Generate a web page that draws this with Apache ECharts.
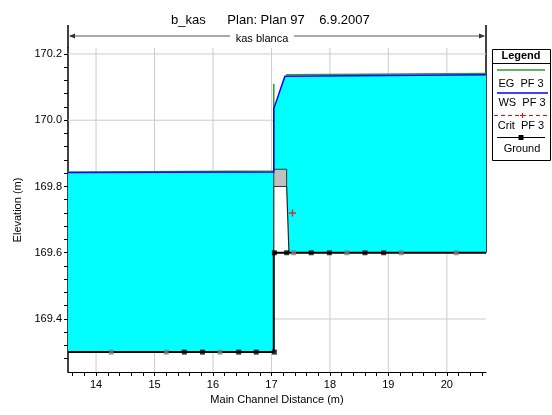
<!DOCTYPE html>
<html>
<head>
<meta charset="utf-8">
<script src="https://cdn.jsdelivr.net/npm/echarts@6/dist/echarts.min.js"></script>
<style>
  html, body { margin: 0; padding: 0; background: #fff; }
  #chart { width: 552px; height: 415px; }
</style>
</head>
<body>
<div id="chart"></div>
<script>
// Axis extents (m)
const X_MIN = 13.52, X_MAX = 20.67;
const Y_MIN = 169.24, Y_MAX = 170.218;

// Labelled ticks
const xTicks = [14, 15, 16, 17, 18, 19, 20];
const yTicks = [169.4, 169.6, 169.8, 170.0, 170.2];

// Water surface, PF 3 (distance, elevation)
const wsDist = [13.52, 17.04, 17.04, 17.23, 20.67];
const wsElev = [169.842, 169.844, 170.035, 170.133, 170.137];

// Energy grade line, PF 3 (null = no line through the bridge)
const egDist = [13.52, 17.04, 17.04, null, 17.25, 20.67];
const egElev = [169.843, 169.847, 170.11, null, 170.137, 170.141];

// Ground profile
const groundDist = [13.52, 17.04, 17.04, 20.67];
const groundElev = [169.30, 169.30, 169.60, 169.60];

// Ground points (black) and interpolated sections (grey)
const groundPtDist = [15.51, 15.82, 16.44, 16.74, 17.05, 17.05, 17.26, 17.68, 17.99, 18.60, 18.92];
const groundPtElev = [169.30, 169.30, 169.30, 169.30, 169.30, 169.60, 169.60, 169.60, 169.60, 169.60, 169.60];
const interpPtDist = [14.26, 15.20, 16.12, 17.38, 18.29, 19.22, 20.16];
const interpPtElev = [169.30, 169.30, 169.30, 169.60, 169.60, 169.60, 169.60];

// Bridge deck and abutment
const deckDist = [17.04, 17.26];
const deckElev = [169.80, 169.852];   // low chord, high chord
const abutmentFootDist = 17.30;

// Critical depth, PF 3
const critDist = [17.36];
const critElev = [169.72];

const FONT = 'Liberation Sans, Arial, sans-serif';

// Minor tick positions
const xMinor = [];
for (let v = 13.6; v < X_MAX; v += 0.2) xMinor.push(+v.toFixed(2));
const yMinor = [];
for (let v = 169.28; v <= Y_MAX + 1e-9; v += 0.04) yMinor.push(+v.toFixed(2));

// Filled water polygons built from the profile arrays
const waterLeft = [
  [wsDist[0], groundElev[0]],
  [wsDist[0], wsElev[0]],
  [wsDist[1], wsElev[1]],
  [groundDist[1], groundElev[1]]
];
const waterRight = [
  [wsDist[2], wsElev[2]],
  [wsDist[3], wsElev[3]],
  [wsDist[4], wsElev[4]],
  [groundDist[3], groundElev[3]],
  [abutmentFootDist, groundElev[3]],
  [deckDist[1], deckElev[0]],
  [deckDist[1], deckElev[1]],
  [deckDist[0], deckElev[1]]
];
const deckPoly = [
  [deckDist[0], deckElev[0]], [deckDist[1], deckElev[0]],
  [deckDist[1], deckElev[1]], [deckDist[0], deckElev[1]]
];

function polySeries(polys, style, z) {
  return {
    type: 'custom', z: z, silent: true, clip: true,
    data: polys.map((p, i) => [i]),
    renderItem: function (params, api) {
      const pts = polys[params.dataIndex].map(p => api.coord(p));
      return { type: 'polygon', shape: { points: pts }, style: style };
    }
  };
}

const gridLineSeries = {
  type: 'custom', z: 1, silent: true, clip: false,
  data: xTicks.map(v => ['x', v]).concat(yTicks.map(v => ['y', v])),
  renderItem: function (params, api) {
    const kind = xTicks.length > params.dataIndex ? 'x' : 'y';
    const v = kind === 'x' ? xTicks[params.dataIndex] : yTicks[params.dataIndex - xTicks.length];
    const a = kind === 'x' ? api.coord([v, Y_MIN]) : api.coord([X_MIN, v]);
    const b = kind === 'x' ? api.coord([v, Y_MAX]) : api.coord([X_MAX, v]);
    return { type: 'line', shape: { x1: a[0], y1: a[1], x2: b[0], y2: b[1] },
             style: { stroke: '#cccccc', lineWidth: 1 } };
  }
};

const zip = (xs, ys) => xs.map((x, i) => (x === null ? null : [x, ys[i]]));

const chart = echarts.init(document.getElementById('chart'), null, { renderer: 'canvas' });

chart.setOption({
  animation: false,
  backgroundColor: '#ffffff',
  title: {
    text: 'b_kas      Plan: Plan 97    6.9.2007',
    left: 166, top: 9,
    textStyle: { fontFamily: FONT, fontSize: 13, fontWeight: 'normal', color: '#000' }
  },
  grid: { left: 68, right: 66, top: 48, bottom: 43, containLabel: false },
  xAxis: {
    type: 'value', min: X_MIN, max: X_MAX,
    name: 'Main Channel Distance (m)', nameLocation: 'middle', nameGap: 19,
    nameTextStyle: { fontFamily: FONT, fontSize: 11, color: '#000' },
    axisLine: { show: true, lineStyle: { color: '#000', width: 1 } },
    axisTick: { show: true, customValues: xMinor, length: 4, lineStyle: { color: '#000' } },
    axisLabel: { customValues: xTicks, margin: 7, fontFamily: FONT, fontSize: 11, color: '#000' },
    splitLine: { show: false }
  },
  yAxis: {
    type: 'value', min: Y_MIN, max: Y_MAX,
    name: 'Elevation (m)', nameLocation: 'middle', nameGap: 44,
    nameTextStyle: { fontFamily: FONT, fontSize: 11, color: '#000' },
    axisLine: { show: true, lineStyle: { color: '#000', width: 1.5 } },
    axisTick: { show: true, customValues: yMinor, length: 4, lineStyle: { color: '#000' } },
    axisLabel: { customValues: yTicks, margin: 6, fontFamily: FONT, fontSize: 11, color: '#000',
                 formatter: v => v.toFixed(1) },
    splitLine: { show: false }
  },
  series: [
    gridLineSeries,
    polySeries([waterLeft, waterRight], { fill: '#00ffff', stroke: null }, 2),
    polySeries([deckPoly], { fill: '#c0c0c0', stroke: '#333333', lineWidth: 1 }, 4),
    {
      // bridge upstream face and sloping abutment
      type: 'line', z: 4, silent: true, symbol: 'none',
      data: [[deckDist[0], groundElev[3]], [deckDist[0], deckElev[0]], null,
             [deckDist[1], deckElev[0]], [abutmentFootDist, groundElev[3]]],
      connectNulls: false,
      lineStyle: { color: '#222', width: 1.2 }
    },
    {
      name: 'Ground', type: 'line', z: 5, silent: true, symbol: 'none',
      data: zip(groundDist, groundElev),
      lineStyle: { color: '#000', width: 2 }
    },
    {
      name: 'EG PF 3', type: 'line', z: 5, silent: true, symbol: 'none',
      data: zip(egDist, egElev), connectNulls: false,
      lineStyle: { color: '#2a9d2a', width: 1.5 }
    },
    {
      name: 'WS PF 3', type: 'line', z: 6, silent: true, symbol: 'none',
      data: zip(wsDist, wsElev),
      lineStyle: { color: '#0000ff', width: 1.5 }
    },
    {
      type: 'scatter', z: 7, silent: true, symbol: 'rect', symbolSize: 5,
      data: zip(interpPtDist, interpPtElev),
      itemStyle: { color: '#808080' }
    },
    {
      type: 'scatter', z: 7, silent: true, symbol: 'rect', symbolSize: 5,
      data: zip(groundPtDist, groundPtElev),
      itemStyle: { color: '#000000' }
    },
    {
      name: 'Crit PF 3', type: 'scatter', z: 7, silent: true,
      symbol: 'path://M4,0H6V4H10V6H6V10H4V6H0V4H4Z', symbolSize: 7,
      data: zip(critDist, critElev),
      itemStyle: { color: '#ff0000' }
    }
  ]
});

// Reach bracket above the plot, and legend box
const pTL = chart.convertToPixel({ gridIndex: 0 }, [X_MIN, Y_MAX]);
const pTR = chart.convertToPixel({ gridIndex: 0 }, [X_MAX, Y_MAX]);
const pGR = chart.convertToPixel({ gridIndex: 0 }, [X_MAX, groundElev[3]]);
const xL = Math.round(pTL[0]), xR = Math.round(pTR[0]);
const topY = 25, arrowY = 36;
const labelCx = 262;
const gapHalf = 32;

const legendX = 492, legendY = 49, legendW = 60, legendH = 111;

chart.setOption({
  graphic: [
    { type: 'line', shape: { x1: xL, y1: topY, x2: xL, y2: pTL[1] }, style: { stroke: '#000', lineWidth: 1.5 } },
    { type: 'line', shape: { x1: xR, y1: topY, x2: xR, y2: pGR[1] }, style: { stroke: '#000', lineWidth: 1.5 } },
    { type: 'line', shape: { x1: xL + 2, y1: arrowY, x2: labelCx - gapHalf, y2: arrowY }, style: { stroke: '#555', lineWidth: 1 } },
    { type: 'line', shape: { x1: labelCx + gapHalf, y1: arrowY, x2: xR - 2, y2: arrowY }, style: { stroke: '#555', lineWidth: 1 } },
    { type: 'polygon', shape: { points: [[xL + 1, arrowY], [xL + 7, arrowY - 2.5], [xL + 7, arrowY + 2.5]] }, style: { fill: '#333' } },
    { type: 'polygon', shape: { points: [[xR - 1, arrowY], [xR - 7, arrowY - 2.5], [xR - 7, arrowY + 2.5]] }, style: { fill: '#333' } },
    { type: 'text', x: labelCx, y: arrowY + 3, style: { text: 'kas blanca', font: '11px ' + FONT, fill: '#000', textAlign: 'center', textVerticalAlign: 'middle' } },

    // legend
    { type: 'rect', shape: { x: legendX + 0.5, y: legendY + 0.5, width: legendW - 2, height: legendH }, style: { fill: '#fff', stroke: '#000', lineWidth: 1 } },
    { type: 'text', x: legendX + 29, y: legendY + 7, style: { text: 'Legend', font: 'bold 11px ' + FONT, fill: '#000', textAlign: 'center', textVerticalAlign: 'middle' } },
    { type: 'line', shape: { x1: legendX, y1: legendY + 14.5, x2: legendX + legendW - 2, y2: legendY + 14.5 }, style: { stroke: '#000', lineWidth: 1 } },
    { type: 'line', shape: { x1: legendX + 5, y1: legendY + 21, x2: legendX + 53, y2: legendY + 21 }, style: { stroke: '#2a9d2a', lineWidth: 1.5 } },
    { type: 'text', x: legendX + 29, y: legendY + 35, style: { text: 'EG  PF 3', font: '11px ' + FONT, fill: '#000', textAlign: 'center', textVerticalAlign: 'middle' } },
    { type: 'line', shape: { x1: legendX + 5, y1: legendY + 44, x2: legendX + 56, y2: legendY + 44 }, style: { stroke: '#0000ff', lineWidth: 1.5 } },
    { type: 'text', x: legendX + 30, y: legendY + 54, style: { text: 'WS  PF 3', font: '11px ' + FONT, fill: '#000', textAlign: 'center', textVerticalAlign: 'middle' } },
    { type: 'line', shape: { x1: legendX + 2, y1: legendY + 66.5, x2: legendX + 56, y2: legendY + 66.5 }, style: { stroke: '#ff0000', lineWidth: 1, lineDash: [4, 3] } },
    { type: 'polygon', shape: { points: [[legendX+30,legendY+64],[legendX+31,legendY+64],[legendX+31,legendY+66],[legendX+33,legendY+66],[legendX+33,legendY+67],[legendX+31,legendY+67],[legendX+31,legendY+69],[legendX+30,legendY+69],[legendX+30,legendY+67],[legendX+28,legendY+67],[legendX+28,legendY+66],[legendX+30,legendY+66]] }, style: { fill: '#ff0000' } },
    { type: 'text', x: legendX + 29, y: legendY + 77, style: { text: 'Crit  PF 3', font: '11px ' + FONT, fill: '#000', textAlign: 'center', textVerticalAlign: 'middle' } },
    { type: 'line', shape: { x1: legendX + 5, y1: legendY + 88.5, x2: legendX + 53, y2: legendY + 88.5 }, style: { stroke: '#000', lineWidth: 1 } },
    { type: 'rect', shape: { x: legendX + 26.5, y: legendY + 86, width: 5, height: 5 }, style: { fill: '#000' } },
    { type: 'text', x: legendX + 30, y: legendY + 100, style: { text: 'Ground', font: '11px ' + FONT, fill: '#000', textAlign: 'center', textVerticalAlign: 'middle' } }
  ]
});
</script>
</body>
</html>
